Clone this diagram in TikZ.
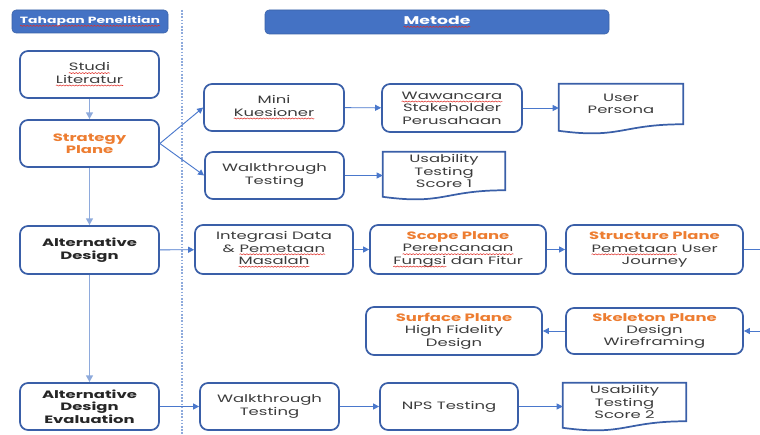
\documentclass[tikz,border=0pt]{standalone}
\usepackage{fontspec}
\setmainfont{Poppins}[FakeStretch=1.54]
\usetikzlibrary{arrows.meta,calc,decorations.pathmorphing}

\definecolor{boxc}{HTML}{3A5FA8}
\definecolor{arrc}{HTML}{4A78CC}
\definecolor{vlc}{HTML}{8EAADC}
\definecolor{hdr}{HTML}{4472C4}
\definecolor{txt}{HTML}{3C3C3C}
\definecolor{plane}{HTML}{ED7D31}
\definecolor{spell}{HTML}{E0302A}

% red wavy spell-check underline drawn under a word
\newcommand\squig[1]{\tikz[baseline=(sq.base), x=1pt, y=1pt]{%
  \node[shape=rectangle, inner sep=0pt, outer sep=0pt, minimum width=0pt,
    minimum height=0pt, text width=, draw=none, fill=none, anchor=center] (sq) {#1};
  \draw[spell, line width=0.4pt, sharp corners, solid, decorate,
    decoration={snake, amplitude=0.4pt, segment length=2.4pt}]
    ([yshift=-1.7pt]sq.base west) -- ([yshift=-1.7pt]sq.base east);}}
\newcommand\pl[1]{{\bfseries\color{plane}#1}}

\tikzset{
  px/.style 2 args={minimum width=#1*0.75pt, minimum height=#2*0.75pt},
  box/.style={draw=boxc, line width=1.3pt, rounded corners=6pt, fill=white,
    align=center, text=txt, inner sep=1pt,
    font=\fontsize{8}{9.3}\selectfont},
  docnode/.style={align=center, text=txt, inner sep=0pt,
    font=\fontsize{8}{9.3}\selectfont},
  docline/.style={draw=boxc, line width=1.3pt, line join=miter},
  hdrbox/.style={fill=hdr, draw=hdr!85!black, line width=0.4pt, rounded corners=3pt,
    text=white, font=\bfseries\fontsize{6.8}{8}\selectfont},
  arr/.style={draw=arrc, line width=0.7pt, -{Triangle[length=4.5pt,width=4.5pt]}},
  vline/.style={draw=vlc, line width=1.4pt, -{Triangle[length=5pt,width=5pt]}},
}

% document shape: flat top, wavy bottom hanging below the node
\newcommand\docshape[1]{%
  \draw[docline] (#1.north west) -- (#1.north east) -- (#1.south east)
    .. controls (#1.south) and ([yshift=-11.2pt]#1.south)
    .. ([yshift=-4.9pt]#1.south west) -- cycle;}

\begin{document}
\begin{tikzpicture}[x=0.75pt,y=-0.75pt]
\useasboundingbox (0,0) rectangle (760,435);

% headers
\node[hdrbox, px={156}{23}] (hL) at (90,21.5) {\squig{Tahapan Penelitian}};
\node[hdrbox, px={344}{24}, font=\bfseries\fontsize{8.4}{10}\selectfont] (hR) at (437,22) {\squig{Metode}};

% separator
\coordinate (sepT) at (182,10);
\coordinate (sepB) at (182,440);
\draw[vlc, line width=1.6pt, dash pattern=on 1.2pt off 1.2pt] (sepT) -- (sepB);

% research stages
\node[box, px={139}{47}] (studi) at (89.5,74.5) {\squig{Studi}\\\squig{Literatur}};
\node[box, px={139}{47}] (strat) at (89.5,143.5) {\pl{Strategy}\\\pl{Plane}};
\node[box, px={139}{48}, font=\bfseries\fontsize{8}{9.3}\selectfont, text=black!85] (altd) at (89.5,250) {Alternative\\Design};
\node[box, px={139}{47}, font=\bfseries\fontsize{8}{9.3}\selectfont, text=black!85] (eval) at (89.5,406.5) {Alternative\\Design\\Evaluation};

\draw[vline] (studi) -- (strat);
\draw[vline] (strat) -- (altd);
\draw[vline] (altd) -- (eval);

% strategy plane methods
\node[box, px={140}{47}] (mini) at (274,107.5) {Mini\\\squig{Kuesioner}};
\node[box, px={139}{47}] (walk1) at (274.5,175.5) {Walkthrough\\Testing};
\node[box, px={140}{48}] (waw) at (452,108) {\squig{Wawancara}\\Stakeholder\\Perusahaan};
\node[docnode, px={124}{40}] (persona) at (621,104) {User\\Persona};
\docshape{persona}
\node[docnode, px={122}{38}] (usab1) at (444,171) {Usability\\Testing\\Score 1};
\docshape{usab1}

\draw[arr] (strat.east) -- (mini.west);
\draw[arr] (strat.east) -- (walk1.west);
\draw[arr] (mini) -- (waw);
\draw[arr] (waw) -- (persona.west |- waw);
\draw[arr] (walk1) -- (usab1.west |- walk1);

% alternative design methods
\node[box, px={158}{49}] (integ) at (274,249.5) {Integrasi Data\\\& \squig{Pemetaan}\\\squig{Masalah}};
\node[box, px={176}{49}] (scope) at (458,249.5) {\pl{Scope Plane}\\\squig{Perencanaan}\\\squig{Fungsi} dan Fitur};
\node[box, px={177}{49}] (struct) at (654.5,249.5) {\pl{Structure Plane}\\\squig{Pemetaan} User\\Journey};
\node[box, px={177}{46}] (skel) at (654.5,331) {\pl{Skeleton Plane}\\Design\\Wireframing};
\node[box, px={176}{48}] (surf) at (454,331) {\pl{Surface Plane}\\High Fidelity\\Design};

\draw[arr] (altd) -- (integ);
\draw[arr] (integ) -- (scope);
\draw[arr] (scope) -- (struct);
\draw[arr] (struct.east) -- ++(40,0) |- (skel.east);
\draw[arr] (skel) -- (surf);

% evaluation methods
\node[box, px={139}{47}] (walk2) at (269.5,406.5) {Walkthrough\\Testing};
\node[box, px={138}{47}] (nps) at (449,406.5) {NPS Testing};
\node[docnode, px={123}{38}] (usab2) at (624.5,402) {Usability\\Testing\\Score 2};
\docshape{usab2}

\draw[arr] (eval) -- (walk2);
\draw[arr] (walk2) -- (nps);
\draw[arr] (nps) -- (usab2.west |- nps);
\end{tikzpicture}
\end{document}
